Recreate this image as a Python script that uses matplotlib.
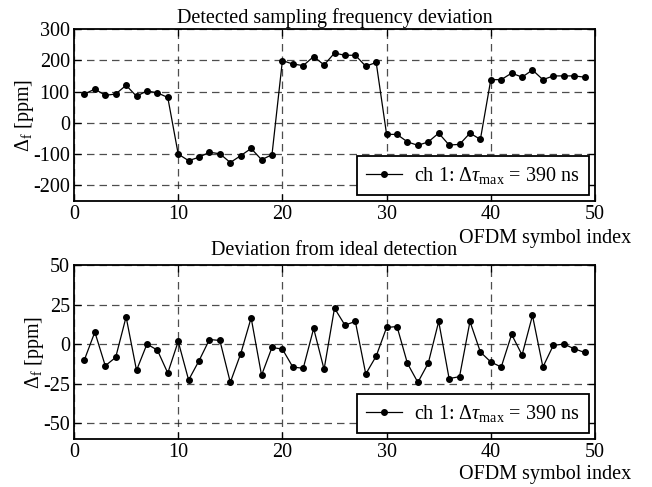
import numpy as np
import matplotlib
matplotlib.use("Agg")
import matplotlib.pyplot as plt

plt.rcParams['font.family'] = ['Liberation Serif', 'DejaVu Serif']
plt.rcParams['mathtext.fontset'] = 'custom'
plt.rcParams['mathtext.rm'] = 'Liberation Serif'
plt.rcParams['mathtext.it'] = 'Liberation Serif:italic'
plt.rcParams['mathtext.fallback'] = 'stix'
plt.rcParams['axes.unicode_minus'] = False

symbols = list(range(1, 50))
detected = [92, 108, 88, 92, 120, 85, 102, 96, 81,
            -100, -121, -110, -94, -99, -127, -105, -82, -118, -102,
            199, 188, 183, 212, 185, 223, 216, 216, 181, 193,
            -37, -37, -61, -72, -61, -33, -71, -69, -33, -53,
            138, 138, 159, 146, 169, 138, 150, 150, 150, 146]
deviation = [-9.9, 7.6, -13.7, -8.4, 17.2, -16.6, 0.0, -3.8, -18.3,
             1.7, -22.7, -10.5, 2.9, 2.3, -24.2, -6.1, 16.6, -19.7, -2.1,
             -3.2, -14.5, -15.3, 9.9, -16.0, 22.7, 12.0, 14.3, -18.9, -7.6,
             10.5, 11.1, -12.2, -24.2, -12.0, 14.3, -21.8, -20.6, 14.3, -5.0,
             -11.3, -14.5, 6.1, -6.9, 18.1, -14.5, -0.8, 0.0, -2.9, -5.3]

xticks = [0, 10, 20, 30, 40, 50]
yticks_top = [-200, -100, 0, 100, 200, 300]
yticks_bot = [-50, -25, 0, 25, 50]
legend_label = r'ch 1: $\Delta\tau_{\mathrm{max}}$ = 390 ns$\enspace$'

FS = 14.5
W, H = 652, 487
fig = plt.figure(figsize=(W / 100, H / 100), dpi=100)

def axes_px(l, t, r, b):
    return fig.add_axes([l / W, 1 - b / H, (r - l) / W, (b - t) / H])

ax1 = axes_px(74, 29, 595, 201)
ax2 = axes_px(74, 265, 595, 439)

def style(ax, yticks, ylim, title, data, title_pad, xlab_px, h_px):
    ax.plot(symbols, data, '-', color='black', lw=0.9, marker='o', ms=4,
            label=legend_label)
    ax.set_xlim(0, 50)
    ax.set_ylim(*ylim)
    ax.set_xticks(xticks)
    ax.set_yticks(yticks)
    ax.grid(True, color='#222222', linestyle=(0, (6, 4)), lw=0.9, alpha=0.8)
    ax.tick_params(direction='in', top=True, right=True, length=5, width=0.9,
                   labelsize=FS, pad=3)
    for s in ax.spines.values():
        s.set_linewidth(1.3)
    ax.set_title(title, fontsize=FS, pad=title_pad)
    ax.set_ylabel(r'$\Delta_{\mathrm{f}}$ [ppm]', fontsize=FS, labelpad=-2.5)
    ax.text(1.0 + 36 / 521, -xlab_px / h_px, 'OFDM symbol index',
            transform=ax.transAxes, ha='right', va='baseline', fontsize=FS)
    leg = ax.legend(loc='lower right', fontsize=FS, fancybox=False,
                    edgecolor='black', framealpha=1, borderaxespad=0.3,
                    handlelength=1.8, handletextpad=0.6, borderpad=0.45)
    leg.get_frame().set_linewidth(1.3)

style(ax1, yticks_top, (-250, 300), 'Detected sampling frequency deviation',
      detected, 4.5, 42, 172)
style(ax2, yticks_bot, (-60, 50), 'Deviation from ideal detection',
      deviation, 7.5, 40, 174)

fig.savefig('out.png', dpi=100)
